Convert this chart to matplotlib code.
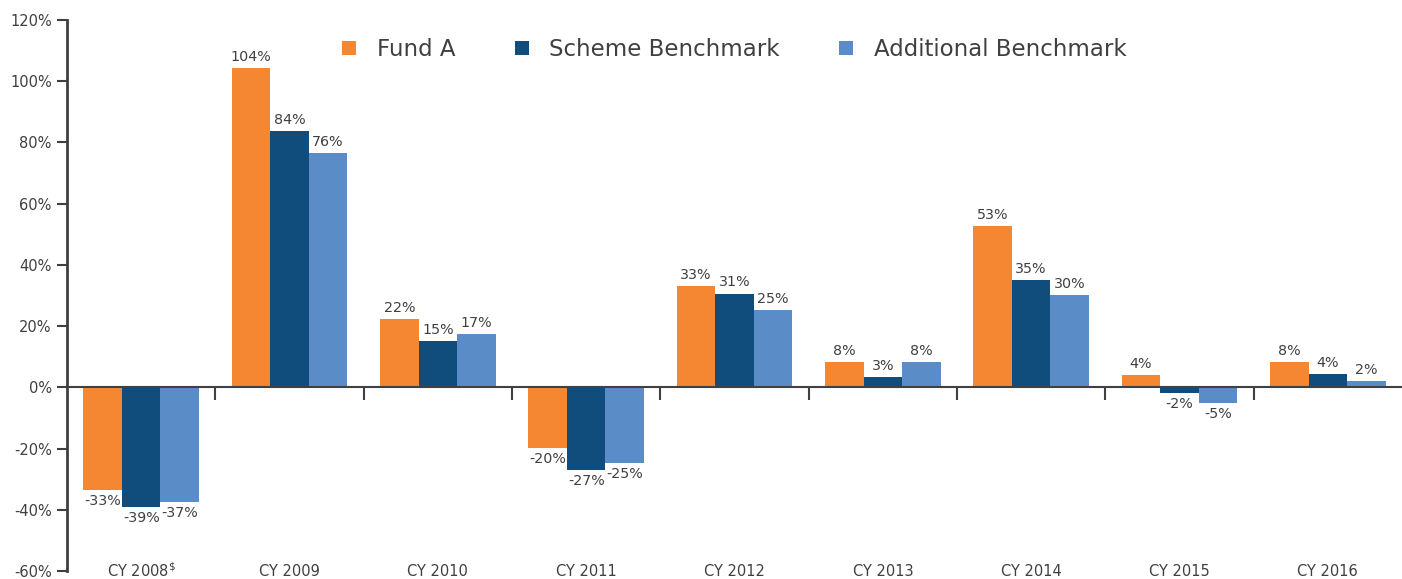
import numpy as np
import matplotlib
matplotlib.use("Agg")
import matplotlib.pyplot as plt

plt.rcParams["font.family"] = ["DejaVu Sans"]

# --- data ---
categories = ["CY 2008$^{\\$}$", "CY 2009", "CY 2010", "CY 2011", "CY 2012",
              "CY 2013", "CY 2014", "CY 2015", "CY 2016"]
fund_a = [-33.4, 104.2, 22.2, -19.9, 33.0, 8.2, 52.6, 3.9, 8.2]
scheme_bm = [-39.2, 83.7, 15.0, -27.1, 30.6, 3.3, 35.0, -1.7, 4.2]
additional_bm = [-37.3, 76.4, 17.4, -24.8, 25.2, 8.2, 30.1, -5.2, 2.0]
series_names = ["Fund A", "Scheme Benchmark", "Additional Benchmark"]
y_ticks = [-60, -40, -20, 0, 20, 40, 60, 80, 100, 120]

# --- style ---
COLORS = ["#F58733", "#114D7C", "#5A8DC8"]
TEXT = "#404040"
AXIS = "#404040"
BAR_W = 0.26

fig = plt.figure(figsize=(14.02, 5.79), dpi=100)
ax = fig.add_axes([67 / 1402, 8 / 579, 1335 / 1402, 551 / 579])

x = np.arange(len(categories))
all_series = [fund_a, scheme_bm, additional_bm]
for i, (vals, name, col) in enumerate(zip(all_series, series_names, COLORS)):
    xs = x + (i - 1) * BAR_W
    ax.bar(xs, vals, width=BAR_W, color=col, label=name, zorder=2)
    for xv, v in zip(xs, vals):
        off = 3 if v >= 0 else -3
        ax.annotate(f"{round(v):d}%", (xv, v), xytext=(0, off),
                    textcoords="offset points", ha="center",
                    va="bottom" if v >= 0 else "top",
                    fontsize=10.3, color=TEXT)

ax.set_xlim(-0.5, len(categories) - 0.5)
ax.set_ylim(-60, 120)

# y axis
ax.set_yticks(y_ticks)
ax.set_yticklabels([f"{t}%" for t in y_ticks])
ax.tick_params(axis="y", direction="out", length=7, width=1.5, color=AXIS,
               labelsize=10.5, labelcolor=TEXT, pad=4)

# x axis sits on the zero line, ticks between groups
for s in ["top", "right"]:
    ax.spines[s].set_visible(False)
ax.spines["left"].set_color(AXIS)
ax.spines["left"].set_linewidth(2)
ax.spines["bottom"].set_position(("data", 0))
ax.spines["bottom"].set_color(AXIS)
ax.spines["bottom"].set_linewidth(1.5)
ax.spines["bottom"].set_zorder(3)
ax.set_xticks(x[:-1] + 0.5)
ax.tick_params(axis="x", direction="out", length=9, width=1.5, color=AXIS,
               labelbottom=False)

# category labels along the bottom
for xv, lab in zip(x, categories):
    ax.text(xv, -60, lab, ha="center", va="center", fontsize=10.5, color=TEXT)

leg = ax.legend(loc="upper center", bbox_to_anchor=(0.5, 1.005), ncol=3,
                frameon=False, fontsize=16.5, handlelength=0.6,
                handleheight=0.6, handletextpad=0.9, columnspacing=2.6)
for t in leg.get_texts():
    t.set_color(TEXT)

fig.savefig("out.png", dpi=100)
